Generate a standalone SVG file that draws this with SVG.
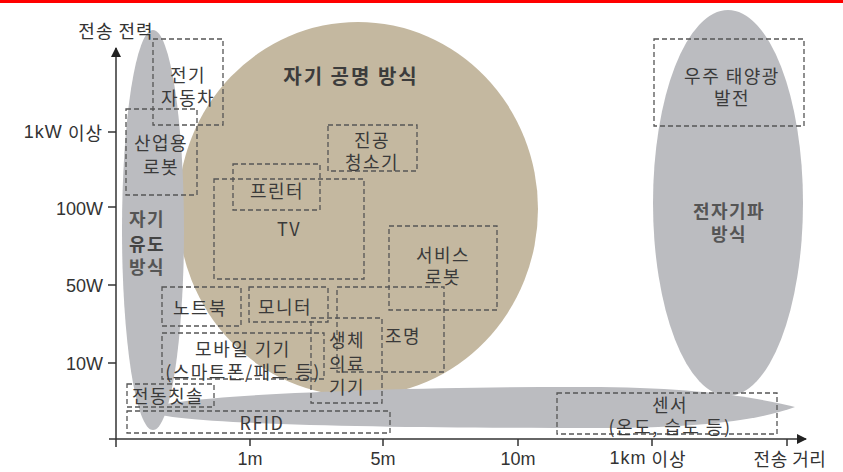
<svg xmlns="http://www.w3.org/2000/svg" width="843" height="472" viewBox="0 0 843 472">
<style>
.box{fill:none;stroke:#555;stroke-width:1.3;stroke-dasharray:5 3}
.t{font-family:"Noto Sans CJK KR","Noto Sans",sans-serif;font-size:18px;letter-spacing:1.5px;fill:#3a3a3a;text-anchor:middle;dominant-baseline:central}
.b{font-weight:bold;fill:#3c3c3c}
.ax{font-family:"Liberation Sans","Noto Sans CJK KR",sans-serif;font-size:18px;fill:#333;dominant-baseline:central}
.axk{font-family:"Noto Sans CJK KR",sans-serif;font-size:18px;letter-spacing:1px;fill:#333;dominant-baseline:central}
.axis{stroke:#333;stroke-width:1.5;fill:none}
</style>
<defs>
<marker id="arr" markerWidth="10" markerHeight="10" refX="9" refY="5" orient="auto" markerUnits="userSpaceOnUse">
<path d="M0,0 L10,5 L0,10 Z" fill="#222"/>
</marker>
</defs>
<rect width="843" height="472" fill="#fff"/>
<line x1="0" y1="1.5" x2="843" y2="1.5" stroke="#f00" stroke-width="3"/>
<g id="regions">
<ellipse cx="358" cy="209" rx="180" ry="187" fill="#c4b8a0"/>
<ellipse cx="153" cy="230" rx="31" ry="200" fill="#bbbcc0"/>
<ellipse cx="728" cy="203" rx="75" ry="193" fill="#bbbcc0"/>
<path d="M150,410 C150,396 400,386 600,387 C700,388 760,398 795,407 C760,420 700,428 600,428 C400,428 150,425 150,410 Z" fill="#bbbcc0"/>
<text class="t b" x="351" y="75" style="font-size:20px;letter-spacing:2px">자기 공명 방식</text>
<text class="t b" x="129" y="218" style="text-anchor:start;fill:#555">자기</text>
<text class="t b" x="129" y="243" style="text-anchor:start;fill:#444">유도</text>
<text class="t b" x="129" y="266" style="text-anchor:start;fill:#555">방식</text>
<text class="t b" x="729" y="210" style="fill:#555">전자기파</text>
<text class="t b" x="729" y="233" style="fill:#555">방식</text>
</g>
<g id="connectors">
<line class="axis" x1="116" y1="447" x2="116" y2="48" marker-end="url(#arr)"/>
<line class="axis" x1="109" y1="439" x2="806" y2="439" marker-end="url(#arr)"/>
<line class="axis" x1="108" y1="132" x2="116" y2="132"/>
<line class="axis" x1="108" y1="207" x2="116" y2="207"/>
<line class="axis" x1="108" y1="285" x2="116" y2="285"/>
<line class="axis" x1="108" y1="363" x2="116" y2="363"/>
<line class="axis" x1="250" y1="439" x2="250" y2="446"/>
<line class="axis" x1="383" y1="439" x2="383" y2="446"/>
<line class="axis" x1="518" y1="439" x2="518" y2="446"/>
<line class="axis" x1="652" y1="439" x2="652" y2="446"/>
<line class="axis" x1="787" y1="439" x2="787" y2="446"/>
</g>
<g id="axis-labels">
<text class="axk" x="116" y="30" style="text-anchor:middle">전송 전력</text>
<text class="axk" x="103" y="132" style="text-anchor:end"><tspan style="font-family:'Liberation Sans',sans-serif">1kW</tspan> 이상</text>
<text class="ax" x="103" y="209" style="text-anchor:end">100W</text>
<text class="ax" x="103" y="286" style="text-anchor:end">50W</text>
<text class="ax" x="103" y="364" style="text-anchor:end">10W</text>
<text class="ax" x="250" y="459" style="text-anchor:middle">1m</text>
<text class="ax" x="383" y="459" style="text-anchor:middle">5m</text>
<text class="ax" x="518" y="459" style="text-anchor:middle">10m</text>
<text class="axk" x="648" y="458" style="text-anchor:middle"><tspan style="font-family:'Liberation Sans',sans-serif">1km</tspan> 이상</text>
<text class="axk" x="790" y="458" style="text-anchor:middle;letter-spacing:0.5px">전송 거리</text>
</g>
<g id="n-car"><rect class="box" x="153" y="39" width="70" height="86"/><text class="t" x="188" y="74">전기</text><text class="t" x="188" y="97">자동차</text></g>
<g id="n-robot"><rect class="box" x="126" y="109" width="71" height="86"/><text class="t" x="161" y="142">산업용</text><text class="t" x="161" y="166">로봇</text></g>
<g id="n-vacuum"><rect class="box" x="328" y="125" width="89" height="46"/><text class="t" x="372" y="139">진공</text><text class="t" x="372" y="161">청소기</text></g>
<g id="n-printer"><rect class="box" x="233" y="164" width="87" height="46"/><text class="t" x="277" y="190">프린터</text></g>
<g id="n-tv"><rect class="box" x="214" y="179" width="150" height="100"/><text class="t" x="289" y="228">TV</text></g>
<g id="n-service"><rect class="box" x="389" y="226" width="108" height="84"/><text class="t" x="443" y="254">서비스</text><text class="t" x="443" y="276">로봇</text></g>
<g id="n-notebook"><rect class="box" x="162" y="287" width="79" height="39"/><text class="t" x="200" y="307">노트북</text></g>
<g id="n-monitor"><rect class="box" x="249" y="287" width="79" height="35"/><text class="t" x="285" y="306">모니터</text></g>
<g id="n-light"><rect class="box" x="337" y="287" width="107" height="85"/><text class="t" x="403" y="335">조명</text></g>
<g id="n-medical"><rect class="box" x="311" y="318" width="71" height="85"/><text class="t" x="347" y="339">생체</text><text class="t" x="347" y="363">의료</text><text class="t" x="347" y="386">기기</text></g>
<g id="n-mobile"><rect class="box" x="162" y="333" width="162" height="46"/><text class="t" x="243" y="348">모바일 기기</text><text class="t" x="243" y="371">(스마트폰/패드 등)</text></g>
<g id="n-toothbrush"><rect class="box" x="127" y="384" width="87" height="23"/><text class="t" x="168" y="395">전동칫솔</text></g>
<g id="n-rfid"><rect class="box" x="127" y="411" width="263" height="22"/><text class="t" x="262" y="422">RFID</text></g>
<g id="n-solar"><rect class="box" x="654" y="39" width="150" height="87"/><text class="t" x="732" y="75">우주 태양광</text><text class="t" x="732" y="97">발전</text></g>
<g id="n-sensor"><rect class="box" x="557" y="393" width="220" height="41"/><text class="t" x="670" y="404">센서</text><text class="t" x="670" y="426">(온도, 습도 등)</text></g>
</svg>
